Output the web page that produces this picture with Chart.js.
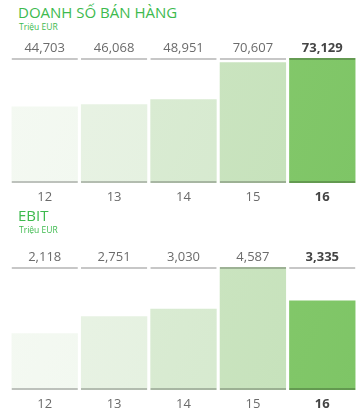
<!DOCTYPE html>
<html>
<head>
<meta charset="utf-8">
<script src="https://cdn.jsdelivr.net/npm/chart.js@4.4.0/dist/chart.umd.min.js"></script>
<style>
  body { margin: 0; background: #fff; width: 364px; height: 419px; position: relative; overflow: hidden; font-family: "Open Sans", sans-serif; }
  .title { position: absolute; left: 18px; color: #3dba4e; font-size: 15px; line-height: 16px; }
  .sub { position: absolute; left: 19px; color: #3dba4e; font-size: 8.5px; line-height: 9px; }
  .box { position: absolute; left: 0; width: 364px; }
</style>
</head>
<body>
<div class="title" style="top:4px">DOANH SỐ BÁN HÀNG</div>
<div class="sub" style="top:22px">Triệu EUR</div>
<div class="box" style="top:36px; height:176px"><canvas id="grafico-doanhso"></canvas></div>

<div class="title" style="top:207px">EBIT</div>
<div class="sub" style="top:225px">Triệu EUR</div>
<div class="box" style="top:245px; height:174px"><canvas id="grafico-ebit"></canvas></div>

<script>
// Dados do gráfico
const nam = ['12', '13', '14', '15', '16'];
const doanhSo = [44703, 46068, 48951, 70607, 73129];
const ebit = [2118, 2751, 3030, 4587, 3335];
const nhanDoanhSo = ['44,703', '46,068', '48,951', '70,607', '73,129'];
const nhanEbit = ['2,118', '2,751', '3,030', '4,587', '3,335'];

// Cores das barras (mais claras para os anos antigos)
const corBarras = ['#eef6ec', '#e1efdc', '#d4e8cc', '#c5e1ba', '#7ec566'];
const corBarrasClaro = ['#f4f9f2', '#e9f3e5', '#dcedd6', '#cfe7c5', '#8ccd72'];

function criarGrafico(id, valores, rotulos) {
  const maximo = Math.max(...valores);
  const ctx = document.getElementById(id).getContext('2d');

  const fonteTick = (c) => ({
    family: '"Open Sans", sans-serif',
    size: 13,
    weight: c.index === 4 ? 'bold' : 'normal'
  });
  const corTick = (c) => c.index === 4 ? '#444' : '#6b6b6b';

  return new Chart(ctx, {
    type: 'bar',
    data: {
      labels: nam,
      datasets: [
        {
          // linha superior e inferior de cada coluna
          data: nam.map(() => maximo),
          backgroundColor: 'rgba(0,0,0,0)',
          borderColor: 'rgba(0,0,0,0.22)',
          borderWidth: { top: 2, bottom: 2, left: 0, right: 0 },
          borderSkipped: false,
          grouped: false,
          order: 0
        },
        {
          data: valores,
          backgroundColor: (c) => {
            const area = c.chart.chartArea;
            if (!area) return corBarras[c.dataIndex];
            const g = c.chart.ctx.createLinearGradient(area.left, area.top, area.right, area.bottom);
            g.addColorStop(0, corBarrasClaro[c.dataIndex]);
            g.addColorStop(1, corBarras[c.dataIndex]);
            return g;
          },
          borderWidth: 0,
          grouped: false,
          order: 1
        }
      ]
    },
    options: {
      responsive: true,
      maintainAspectRatio: false,
      animation: false,
      barPercentage: 0.956,
      categoryPercentage: 1,
      layout: { padding: { left: 10, right: 7, top: 0, bottom: 0 } },
      plugins: { legend: { display: false }, tooltip: { enabled: false } },
      scales: {
        x: {
          position: 'bottom',
          grid: { display: false },
          border: { display: false },
          ticks: { color: corTick, font: fonteTick, padding: -2 },
          afterFit: (s) => { s.height = 29; }
        },
        xTop: {
          type: 'category',
          position: 'top',
          labels: rotulos,
          offset: true,
          grid: { display: false },
          border: { display: false },
          ticks: { color: corTick, font: fonteTick, padding: -6 },
          afterFit: (s) => { s.height = 22; }
        },
        y: { display: false, min: 0, max: maximo }
      }
    }
  });
}

criarGrafico('grafico-doanhso', doanhSo, nhanDoanhSo);
criarGrafico('grafico-ebit', ebit, nhanEbit);
</script>
</body>
</html>
